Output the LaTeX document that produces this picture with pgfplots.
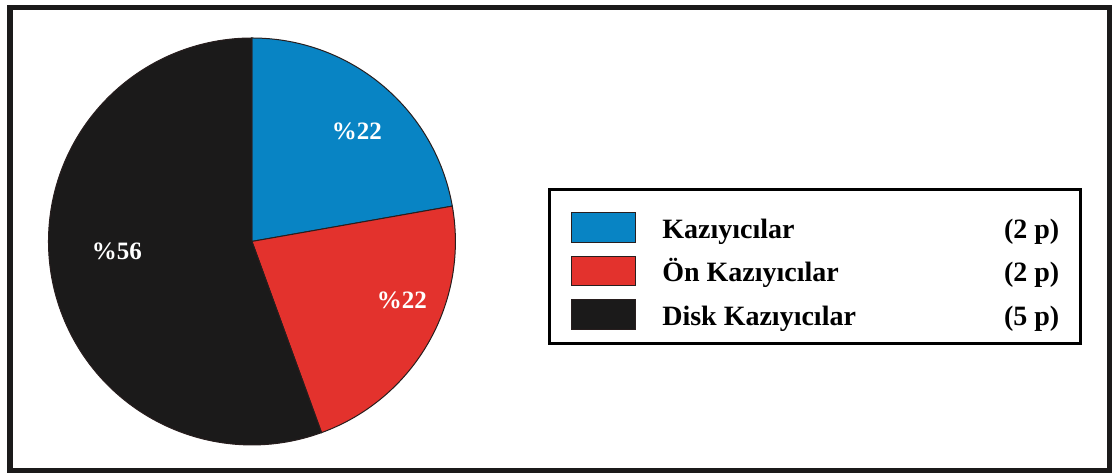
\documentclass[border=0pt]{standalone}
\usepackage{pgfplots}
\pgfplotsset{compat=1.18}
\usepackage{pgfplotstable}
\usepackage{fontspec}
\setmainfont{Liberation Serif}
\definecolor{pieblue}{RGB}{8,132,196}
\definecolor{piered}{RGB}{227,50,45}
\definecolor{pieblack}{RGB}{27,26,26}
\definecolor{pieedge}{RGB}{40,30,30}
\pgfplotstableread{
name value pct
Kaz 2 22
On 2 22
Disk 5 56
}\piedata
\begin{document}
\begin{tikzpicture}
\pgfplotstablegetelem{0}{value}\of\piedata \let\vA\pgfplotsretval
\pgfplotstablegetelem{1}{value}\of\piedata \let\vB\pgfplotsretval
\pgfplotstablegetelem{2}{value}\of\piedata \let\vC\pgfplotsretval
\pgfmathsetmacro{\tot}{\vA+\vB+\vC}
\pgfmathsetmacro{\aA}{90-360*\vA/\tot}
\pgfmathsetmacro{\aB}{\aA-360*\vB/\tot}
\pgfmathsetmacro{\aC}{\aB-360*\vC/\tot}
\begin{axis}[
  x=0.5pt, y=0.5pt,
  xmin=0, xmax=1112, ymin=0, ymax=473,
  hide axis, clip=false,
  legend style={at={(axis cs:548.5,284.5)}, anchor=north west, draw=black,
    line width=1.5pt, inner xsep=10.5pt, inner ysep=6pt, row sep=0.5pt,
    font=\bfseries\fontsize{14}{16}\selectfont,
    nodes={inner sep=0pt, text height=18.1pt, text depth=3.15pt},
    /tikz/every odd column/.append style={column sep=13.25pt}},
  legend cell align=left,
  legend image code/.code={\draw[#1, line width=0.5pt] (0pt,-9.55pt) rectangle (32pt,5.25pt);},
]
\path (axis cs:0,0) rectangle (axis cs:1112,473);
% pie slices
\fill[pieblue, draw=pieedge, line width=0.5pt] (axis cs:252,231.5) -- ++(90:101.75pt) arc[start angle=90, end angle=\aA, radius=101.75pt] -- cycle;
\fill[piered, draw=pieedge, line width=0.5pt] (axis cs:252,231.5) -- ++(\aA:101.75pt) arc[start angle=\aA, end angle=\aB, radius=101.75pt] -- cycle;
\fill[pieblack, draw=pieedge, line width=0.5pt] (axis cs:252,231.5) -- ++(\aB:101.75pt) arc[start angle=\aB, end angle=\aC, radius=101.75pt] -- cycle;
\node[white, font=\bfseries\fontsize{12.5}{14}\selectfont] at (axis cs:357,342) {\%22};
\node[white, font=\bfseries\fontsize{12.5}{14}\selectfont] at (axis cs:402,173) {\%22};
\node[white, font=\bfseries\fontsize{12.5}{14}\selectfont] at (axis cs:117,222) {\%56};
% outer frame
\draw[line width=2.75pt, pieblack] (axis cs:10,2.5) rectangle (axis cs:1109.5,465.5);
\addlegendimage{fill=pieblue, draw=pieedge}
\addlegendentry{\makebox[198.5pt][l]{Kazıyıcılar\hfill(2 p)}}
\addlegendimage{fill=piered, draw=pieedge}
\addlegendentry{\makebox[198.5pt][l]{Ön Kazıyıcılar\hfill(2 p)}}
\addlegendimage{fill=pieblack, draw=pieedge}
\addlegendentry{\makebox[198.5pt][l]{Disk Kazıyıcılar\hfill(5 p)}}
\end{axis}
\end{tikzpicture}
\end{document}
